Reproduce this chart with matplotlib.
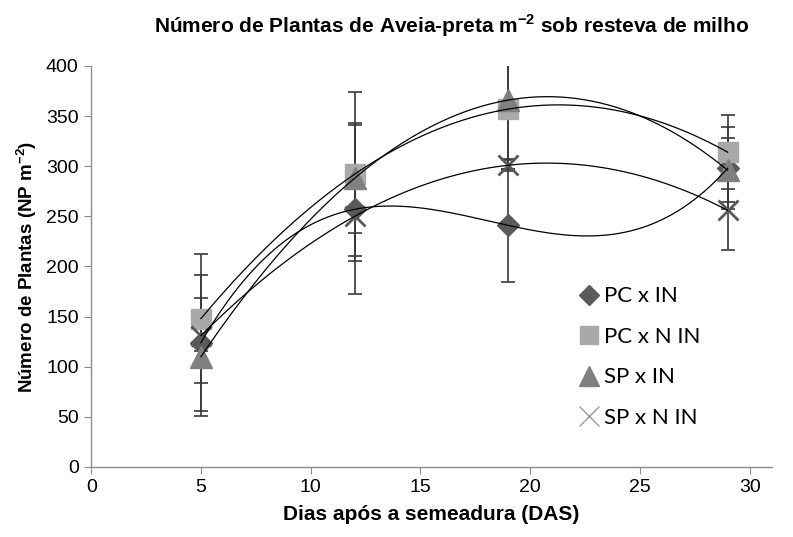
import numpy as np
import matplotlib.pyplot as plt
from matplotlib.lines import Line2D

# dias apos a semeadura
das = [5, 12, 19, 29]

# numero de plantas por tratamento
pc_in = [124, 257, 241, 298]
pc_nin = [148, 292, 357, 314]
sp_in = [110, 288, 366, 296]
sp_nin = [131, 250, 301, 256]

# desvios (barras de erro)
err_pc_in = [68, 84, 56, 41]
err_pc_nin = [64, 82, 60, 37]
err_sp_in = [59, 55, 60, 32]
err_sp_nin = [15, 45, 6, 40]

labels = ["PC x IN", "PC x N IN", "SP x IN", "SP x N IN"]

series = [
    (pc_in, err_pc_in, "D", "#5a5a5a", 11, 1),
    (pc_nin, err_pc_nin, "s", "#a9a9a9", 15, 1),
    (sp_in, err_sp_in, "^", "#808080", 16, 1),
    (sp_nin, err_sp_nin, "x", "#595959", 15, 2.0),
]

reg = ["Liberation Sans", "DejaVu Sans"]

fig = plt.figure(figsize=(7.93, 5.37), dpi=100)
ax = fig.add_axes([0.115, 0.1304, 0.858, 0.7467])

xs = np.linspace(5, 29, 200)
for y, e, m, c, ms, mew in series:
    ax.errorbar(das, y, yerr=e, fmt="none", ecolor="#3a3a3a", elinewidth=1.2,
                capsize=4.7, capthick=1.2, zorder=2)
for y, e, m, c, ms, mew in series:
    if m == "x":
        ax.plot(das, y, linestyle="none", marker=m, markersize=ms, color=c,
                markeredgewidth=mew, zorder=3)
    else:
        ax.plot(das, y, linestyle="none", marker=m, markersize=ms, color=c,
                markeredgecolor=c, zorder=3)
for y, e, m, c, ms, mew in series:
    p = np.polyfit(das, y, 3)
    ax.plot(xs, np.polyval(p, xs), color="black", linewidth=0.9, zorder=4)

ax.set_xlim(0, 31)
ax.set_ylim(0, 400)
ax.set_xticks(range(0, 31, 5))
ax.set_yticks(range(0, 401, 50))

for s in ["top", "right"]:
    ax.spines[s].set_visible(False)
for s in ["left", "bottom"]:
    ax.spines[s].set_color("#8c8c8c")
    ax.spines[s].set_linewidth(1.0)
ax.tick_params(direction="out", length=5, color="#8c8c8c", labelsize=14, pad=4)
for t in ax.get_xticklabels() + ax.get_yticklabels():
    t.set_family(reg)

ax.set_xlabel("Dias após a semeadura (DAS)", family=reg, fontsize=15,
              fontweight="bold", labelpad=6)
ax.set_ylabel(r"Número de Plantas (NP m$^{\mathregular{-2}}$)", family=reg,
              fontsize=13.5, fontweight="bold", labelpad=5)

fig.text(0.57, 0.953, r"Número de Plantas de Aveia-preta m$^{\mathregular{-2}}$ sob resteva de milho",
         ha="center", va="center", family=reg, fontsize=15, fontweight="bold")

handles = []
for y, e, m, c, ms, mew in series:
    if m == "x":
        handles.append(Line2D([], [], linestyle="none", marker=m, markersize=ms,
                              color="#9a9a9a", markeredgewidth=1.0))
    else:
        handles.append(Line2D([], [], linestyle="none", marker=m,
                              markersize=ms * 0.9, color=c))
ax.legend(handles, labels, loc="center left", bbox_to_anchor=(0.705, 0.335),
          bbox_transform=fig.transFigure, frameon=False,
          prop={"family": ["Lato", "DejaVu Sans"], "size": 16},
          handlelength=0.9, handletextpad=0.2, labelspacing=0.92)

fig.savefig("out.png", dpi=100)
